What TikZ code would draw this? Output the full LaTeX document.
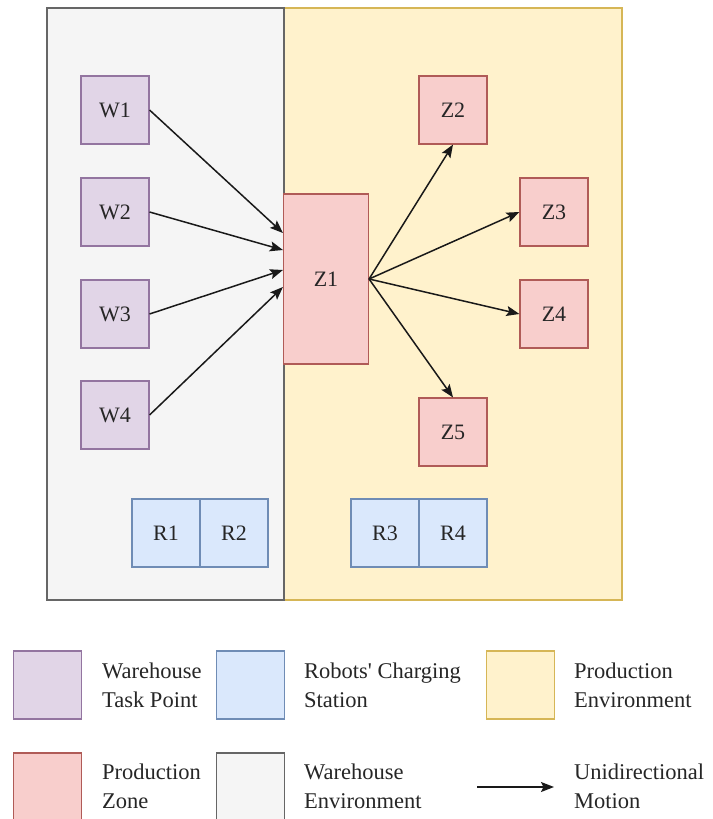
\documentclass[tikz,border=0pt]{standalone}
\usepackage{fontspec}
\setmainfont{Liberation Serif}
\usetikzlibrary{arrows.meta}
\newcommand{\straightquote}{\XeTeXglyph\XeTeXcharglyph"0027\relax}
\definecolor{purpF}{HTML}{E1D5E7}\definecolor{purpD}{HTML}{9673A6}
\definecolor{blueF}{HTML}{DAE8FC}\definecolor{blueD}{HTML}{6C8EBF}
\definecolor{yelF}{HTML}{FFF2CC}\definecolor{yelD}{HTML}{D6B656}
\definecolor{redF}{HTML}{F8CECC}\definecolor{redD}{HTML}{B85450}
\definecolor{grayF}{HTML}{F5F5F5}\definecolor{grayD}{HTML}{666666}
\begin{document}
\begin{tikzpicture}[x=1pt,y=-1pt,
  box/.style={draw, line width=1.1pt, inner sep=0pt, minimum width=68pt, minimum height=68pt,
    font=\fontsize{22}{26}\selectfont, text=black!85},
  wbox/.style={box, fill=purpF, draw=purpD!85!gray},
  zbox/.style={box, fill=redF, draw=redD!85!gray},
  rbox/.style={box, fill=blueF, draw=blueD!85!gray},
  env/.style={line width=1.1pt},
  flow/.style={line width=1.5pt, black!90, -{Stealth[length=13pt,width=10pt,inset=2.5pt]}},
  legtxt/.style={anchor=west, align=left, inner sep=0pt, font=\fontsize{22.5}{29}\selectfont, text=black!85}
]
\useasboundingbox (0,0) rectangle (712,819);
% environments
\draw[env, fill=yelF, draw=yelD] (284,8) rectangle (622,600);
\draw[env, fill=grayF, draw=grayD] (47,8) rectangle (284,600);
% warehouse task points
\node[wbox] (W1) at (115,110) {W1};
\node[wbox] (W2) at (115,212) {W2};
\node[wbox] (W3) at (115,314) {W3};
\node[wbox] (W4) at (115,415) {W4};
% production zones
\node[zbox, minimum width=85pt, minimum height=170pt] (Z1) at (326,279) {Z1};
\node[zbox] (Z2) at (453,110) {Z2};
\node[zbox] (Z3) at (554,212) {Z3};
\node[zbox] (Z4) at (554,314) {Z4};
\node[zbox] (Z5) at (453,432) {Z5};
% charging stations
\node[rbox] (R1) at (166,533) {R1};
\node[rbox] (R2) at (234,533) {R2};
\node[rbox] (R3) at (385,533) {R3};
\node[rbox] (R4) at (453,533) {R4};
% arrows
\draw[flow] (W1.east) -- ([yshift=46pt]Z1.west);
\draw[flow] (W2.east) -- ([yshift=29pt]Z1.west);
\draw[flow] (W3.east) -- ([yshift=9pt]Z1.west);
\draw[flow] (W4.east) -- ([yshift=-8pt]Z1.west);
\draw[flow] (Z1.east) -- (Z2.south);
\draw[flow] (Z1.east) -- (Z3.west);
\draw[flow] (Z1.east) -- (Z4.west);
\draw[flow] (Z1.east) -- (Z5.north);
% legend
\node[box, fill=purpF, draw=purpD!85!gray] (Lw) at (47.5,685) {};
\node[legtxt] (LwT) at (102,685) {Warehouse\\Task Point};
\node[box, fill=blueF, draw=blueD!85!gray] (Lr) at (250.5,685) {};
\node[legtxt] (LrT) at (304,685) {Robots\straightquote{} Charging\\Station};
\node[box, fill=yelF, draw=yelD] (Lp) at (520.5,685) {};
\node[legtxt] (LpT) at (574,685) {Production\\Environment};
\node[box, fill=redF, draw=redD!85!gray] (Lz) at (47.5,787) {};
\node[legtxt] (LzT) at (102,786) {Production\\Zone};
\node[box, fill=grayF, draw=grayD] (Lg) at (250.5,787) {};
\node[legtxt] (LgT) at (304,786) {Warehouse\\Environment};
\coordinate (La) at (477,787);
\coordinate (Lb) at (554,787);
\draw[flow] (La) -- (Lb);
\node[legtxt] (LaT) at (574,786) {Unidirectional\\Motion};
\end{tikzpicture}
\end{document}
